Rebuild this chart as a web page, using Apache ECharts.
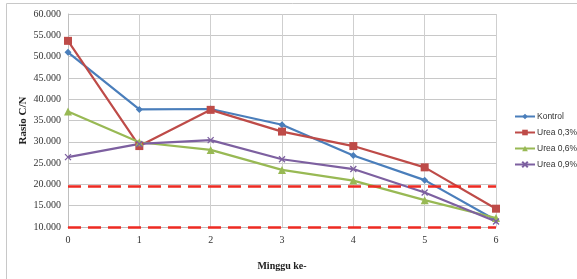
<!DOCTYPE html>
<html><head><meta charset="utf-8">
<script src="https://cdn.jsdelivr.net/npm/echarts@6/dist/echarts.min.js"></script>
<style>html,body{margin:0;padding:0;background:#fff}#c{width:577px;height:279px}</style>
</head><body><div id="c"></div>
<script>
const weeks = ['0','1','2','3','4','5','6'];
const kontrol = [51.0, 37.6, 37.7, 34.0, 26.8, 21.0, 11.6];
const urea03  = [53.7, 29.0, 37.5, 32.4, 29.0, 24.0, 14.3];
const urea06  = [37.1, 29.9, 28.1, 23.4, 20.9, 16.3, 12.1];
const urea09  = [26.4, 29.5, 30.4, 25.9, 23.6, 18.1, 11.3];
const thresholds = [19.6, 10.0];
const seriesNames = ['Kontrol', 'Urea 0,3%', 'Urea 0,6%', 'Urea 0,9%'];

const serif = '"Liberation Serif", "DejaVu Serif", serif';
const sans = '"Liberation Sans", Arial, sans-serif';
const colors = ['#4A7EBB', '#BE4B48', '#98B954', '#7D60A0'];
const symbols = ['diamond', 'rect', 'triangle', 'path://M0,0L10,10M10,0L0,10'];
const sizes = [7, 8, 8, 6];
const datas = [kontrol, urea03, urea06, urea09];

const chart = echarts.init(document.getElementById('c'), null, {renderer: 'canvas'});
const series = datas.map((d, i) => ({
  name: seriesNames[i], type: 'line', data: d,
  symbol: symbols[i], symbolSize: sizes[i],
  lineStyle: {color: colors[i], width: 2.2},
  itemStyle: {color: colors[i], borderColor: colors[i], borderWidth: i === 3 ? 1.3 : 0},
  z: 3
}));
series.push({
  name: 'batas', type: 'line', data: [], z: 5,
  markLine: {
    silent: true, symbol: ['none', 'none'],
    label: {show: false},
    lineStyle: {color: '#EE2A22', width: 2.5, type: [13, 7]},
    data: thresholds.map(v => ({yAxis: v}))
  }
});

chart.setOption({
  animation: false,
  color: colors,
  graphic: [{type: 'rect', shape: {x: 6.5, y: 3.5, width: 600, height: 300},
    style: {fill: 'none', stroke: '#C8C8C8', lineWidth: 1}, z: -10}],
  grid: {left: 68, right: 81, top: 14, bottom: 52},
  legend: {
    data: seriesNames, orient: 'vertical', left: 509, top: 107,
    itemWidth: 20, itemHeight: 7, itemGap: 7,
    textStyle: {fontFamily: sans, fontSize: 8.5, color: '#333', padding: [0, 0, 0, -3]}
  },
  xAxis: {
    type: 'category', data: weeks, boundaryGap: false,
    name: 'Minggu ke-', nameLocation: 'middle', nameGap: 34,
    nameTextStyle: {fontFamily: serif, fontSize: 10, fontWeight: 'bold', color: '#222'},
    axisLine: {show: true, lineStyle: {color: '#BFBFBF'}},
    axisTick: {show: false},
    axisLabel: {fontFamily: serif, fontSize: 10, color: '#333', margin: 8},
    splitLine: {show: true, lineStyle: {color: '#CFCFCF', width: 1}}
  },
  yAxis: {
    type: 'value', min: 10, max: 60, interval: 5,
    name: 'Rasio C/N', nameLocation: 'middle', nameGap: 39, nameMoveOverlap: false,
    nameTextStyle: {fontFamily: serif, fontSize: 11, fontWeight: 'bold', color: '#222'},
    axisLine: {show: true, lineStyle: {color: '#BFBFBF'}},
    axisTick: {show: false},
    axisLabel: {fontFamily: serif, fontSize: 10, color: '#333', margin: 7,
      formatter: v => v.toFixed(3)},
    splitLine: {show: true, lineStyle: {color: '#C8C8C8', width: 1}}
  },
  series: series
});
</script></body></html>
